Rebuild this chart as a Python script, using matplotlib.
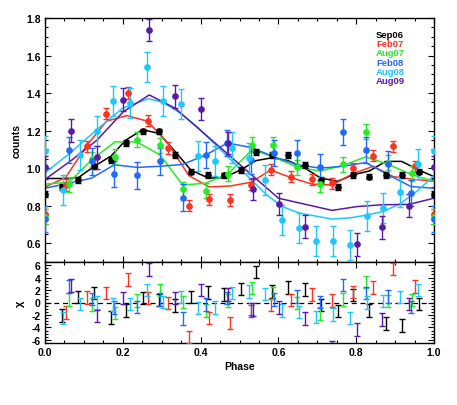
import matplotlib
matplotlib.use('Agg')
import matplotlib.pyplot as plt
from matplotlib.ticker import MultipleLocator

plt.rcParams['font.family'] = ['Liberation Sans', 'DejaVu Sans']
plt.rcParams['axes.unicode_minus'] = False

# ---------------- data ----------------
names = ['Sep06', 'Feb07', 'Aug07', 'Feb08', 'Aug08', 'Aug09']
colors = ['#000000', '#ff3320', '#22ee22', '#1f6bff', '#1ec8ff', '#5a1aa8']

# Sep06
sep06_phase = [0.0, 0.043, 0.086, 0.127, 0.17, 0.208, 0.251, 0.293, 0.334, 0.375, 0.42, 0.46,
               0.503, 0.542, 0.583, 0.625, 0.668, 0.709, 0.752, 0.793, 0.834, 0.876, 0.917, 0.961, 1.0]
sep06_counts = [0.863, 0.90, 0.937, 1.009, 1.045, 1.134, 1.196, 1.196, 1.071, 0.982, 0.964, 0.961,
                0.991, 1.086, 1.071, 1.071, 1.018, 0.937, 0.898, 0.964, 0.955, 0.964, 0.964, 0.982, 0.863]
sep06_err = 0.015
sep06_model_phase = [0.0, 0.043, 0.086, 0.127, 0.17, 0.208, 0.251, 0.293, 0.334, 0.375, 0.42, 0.46,
                     0.503, 0.542, 0.583, 0.625, 0.668, 0.709, 0.752, 0.793, 0.834, 0.876, 0.917, 0.961, 1.0]
sep06_model = [0.945, 0.945, 0.95, 1.01, 1.065, 1.15, 1.205, 1.185, 1.09, 0.99, 0.947, 0.95,
               0.99, 1.04, 1.055, 1.04, 1.0, 0.947, 0.93, 0.965, 0.985, 1.036, 1.036, 0.99, 0.955]
sep06_res_phase = [0.043, 0.086, 0.127, 0.17, 0.208, 0.251, 0.293, 0.334, 0.375, 0.42, 0.46, 0.503,
                   0.542, 0.583, 0.625, 0.668, 0.709, 0.752, 0.793, 0.834, 0.876, 0.917, 0.961]
sep06_res = [-2.1, 0.9, 1.5, -2.4, -1.3, 0.7, 0.4, -0.5, 0.9, 1.6, 1.3, 2.2,
             4.9, 1.8, 2.4, 2.1, -0.4, -1.4, 1.2, -1.3, -3.4, -3.7, -0.2]

# Feb07
feb07_phase = [0.0, 0.054, 0.109, 0.158, 0.213, 0.264, 0.317, 0.37, 0.422, 0.476, 0.53, 0.58,
               0.632, 0.686, 0.738, 0.791, 0.844, 0.895, 0.95, 1.0]
feb07_counts = [0.754, 0.91, 1.116, 1.29, 1.40, 1.253, 1.107, 0.80, 0.834, 0.831, 0.911, 0.991,
                0.955, 0.941, 0.92, 1.0, 1.067, 1.116, 1.01, 0.754]
feb07_err = 0.03
feb07_model_phase = [0.0, 0.053, 0.107, 0.158, 0.21, 0.264, 0.317, 0.37, 0.422, 0.476, 0.53, 0.58,
                     0.632, 0.686, 0.738, 0.791, 0.844, 0.895, 0.95, 1.0]
feb07_model = [0.90, 0.95, 1.12, 1.25, 1.28, 1.25, 1.13, 0.96, 0.90, 0.905, 0.925, 0.99,
               0.95, 0.915, 0.91, 0.97, 1.01, 0.955, 0.94, 0.93]
feb07_res_phase = [0.054, 0.109, 0.158, 0.213, 0.264, 0.317, 0.37, 0.422, 0.476, 0.53, 0.58,
                   0.632, 0.686, 0.738, 0.791, 0.844, 0.895, 0.95]
feb07_res = [-1.6, 0.8, 1.5, 3.7, 0.7, -0.1, -5.5, -2.5, -3.3, -1.4, -0.4,
             0.4, 1.3, 0.3, 1.7, 2.4, 5.4, 2.6]

# Aug07
aug07_phase = [0.0, 0.062, 0.12, 0.18, 0.236, 0.296, 0.354, 0.413, 0.471, 0.533, 0.587, 0.649,
               0.707, 0.767, 0.824, 0.883, 0.943, 1.0]
aug07_counts = [0.742, 0.915, 1.048, 1.062, 1.152, 1.121, 0.888, 0.879, 0.97, 1.125, 1.125, 1.004,
                0.915, 1.021, 1.193, 1.03, 0.973, 0.742]
aug07_err = 0.04
aug07_model_phase = [0.0, 0.062, 0.12, 0.18, 0.236, 0.296, 0.354, 0.413, 0.471, 0.533, 0.587, 0.649,
                     0.707, 0.767, 0.824, 0.883, 0.943, 1.0]
aug07_model = [0.915, 0.925, 1.045, 1.14, 1.14, 1.07, 0.91, 0.92, 0.97, 1.10, 1.06, 1.005,
               0.985, 1.015, 1.06, 1.02, 0.965, 0.93]
aug07_res_phase = [0.062, 0.12, 0.18, 0.236, 0.296, 0.354, 0.413, 0.471, 0.533, 0.587, 0.649,
                   0.707, 0.767, 0.824, 0.883, 0.943]
aug07_res = [0.5, -0.3, -1.7, 0.3, 2.0, 0.1, -1.3, 0.3, 2.3, 1.5, -0.1,
             -1.8, 0.5, 3.3, 0.2, 0.4]

# Feb08
feb08_phase = [0.0, 0.062, 0.12, 0.178, 0.237, 0.296, 0.354, 0.413, 0.469, 0.53, 0.589, 0.649,
               0.707, 0.767, 0.824, 0.883, 0.941, 1.0]
feb08_counts = [0.729, 1.098, 1.036, 0.97, 0.961, 1.036, 0.843, 1.071, 1.134, 1.041, 1.08, 1.08,
                1.006, 1.193, 1.098, 1.023, 0.866, 0.729]
feb08_err = 0.07
feb08_model_phase = [0.0, 0.062, 0.12, 0.178, 0.237, 0.296, 0.354, 0.413, 0.469, 0.53, 0.589, 0.649,
                     0.707, 0.767, 0.824, 0.883, 0.941, 1.0]
feb08_model = [0.893, 0.92, 0.947, 1.018, 1.004, 1.01, 1.02, 1.07, 1.134, 1.11, 1.06, 1.018,
               1.0, 1.01, 1.03, 0.964, 0.902, 0.893]
feb08_res_phase = [0.062, 0.12, 0.178, 0.237, 0.296, 0.354, 0.413, 0.469, 0.53, 0.589, 0.649,
                   0.707, 0.767, 0.824, 0.883, 0.941]
feb08_res = [2.6, 0.6, -0.8, -0.7, 0.5, -2.6, -0.3, 0.7, -1.0, 0.5, 1.0,
             0.1, 2.8, 1.5, 1.0, -0.7]

# Aug08
aug08_phase = [0.0, 0.045, 0.09, 0.133, 0.176, 0.219, 0.261, 0.304, 0.35, 0.394, 0.437, 0.48,
               0.524, 0.566, 0.61, 0.653, 0.697, 0.741, 0.784, 0.827, 0.87, 0.913, 0.958, 1.0]
aug08_counts = [1.093, 0.884, 1.07, 1.196, 1.36, 1.345, 1.54, 1.357, 1.34, 1.066, 1.036, 1.11,
                1.053, 0.937, 0.724, 0.679, 0.611, 0.611, 0.59, 0.747, 0.79, 0.872, 1.021, 1.093]
aug08_err = 0.08
aug08_model_phase = [0.0, 0.064, 0.133, 0.2, 0.266, 0.304, 0.35, 0.394, 0.57, 0.61, 0.655,
                     0.737, 0.784, 0.827, 0.87, 0.913, 0.958, 1.0]
aug08_model = [0.975, 1.08, 1.205, 1.32, 1.37, 1.35, 1.29, 1.215, 0.857, 0.795, 0.76,
               0.729, 0.735, 0.75, 0.77, 0.81, 0.88, 0.96]
aug08_res_phase = [0.045, 0.09, 0.133, 0.176, 0.219, 0.261, 0.304, 0.35, 0.394, 0.437, 0.48,
                   0.524, 0.566, 0.61, 0.653, 0.697, 0.741, 0.784, 0.827, 0.87, 0.913, 0.958]
aug08_res = [-2.5, -0.2, 0.0, -0.3, -0.2, 2.0, 0.1, 0.9, -0.9, -0.8, 1.5,
             1.8, 1.4, -1.3, -1.5, -2.3, -1.9, -2.5, 0.0, 0.2, 0.9, 2.0]

# Aug09
aug09_phase = [0.0, 0.067, 0.134, 0.201, 0.268, 0.334, 0.401, 0.47, 0.534, 0.602, 0.668, 0.738,
               0.801, 0.867, 0.936, 1.0]
aug09_counts = [1.004, 1.2, 1.057, 1.365, 1.736, 1.383, 1.315, 1.134, 0.888, 0.81, 0.688, 0.40,
                0.594, 0.684, 0.80, 1.004]
aug09_err = 0.06
aug09_model_phase = [0.0, 0.067, 0.134, 0.201, 0.268, 0.334, 0.6, 0.738, 0.801, 0.867, 0.936, 1.0]
aug09_model = [0.94, 1.04, 1.15, 1.30, 1.39, 1.32, 0.84, 0.775, 0.795, 0.805, 0.807, 0.84]
aug09_res_phase = [0.067, 0.134, 0.201, 0.268, 0.334, 0.401, 0.47, 0.534, 0.602, 0.668, 0.738,
                   0.801, 0.867, 0.936]
aug09_res = [2.7, -2.2, 0.7, 5.3, 0.7, 2.0, 1.3, -1.1, -0.8, -2.6, -7.2,
             -4.3, -2.7, -0.2]

series = [
    (sep06_phase, sep06_counts, sep06_err, sep06_model_phase, sep06_model, sep06_res_phase, sep06_res),
    (feb07_phase, feb07_counts, feb07_err, feb07_model_phase, feb07_model, feb07_res_phase, feb07_res),
    (aug07_phase, aug07_counts, aug07_err, aug07_model_phase, aug07_model, aug07_res_phase, aug07_res),
    (feb08_phase, feb08_counts, feb08_err, feb08_model_phase, feb08_model, feb08_res_phase, feb08_res),
    (aug08_phase, aug08_counts, aug08_err, aug08_model_phase, aug08_model, aug08_res_phase, aug08_res),
    (aug09_phase, aug09_counts, aug09_err, aug09_model_phase, aug09_model, aug09_res_phase, aug09_res),
]

# ---------------- figure ----------------
W, H = 457, 406
fig = plt.figure(figsize=(W / 100, H / 100), dpi=100)
ax = fig.add_axes([45 / W, 1 - 263 / H, 389 / W, 244 / H])
axr = fig.add_axes([45 / W, 1 - 344 / H, 389 / W, 81 / H])

for (ph, ct, er, mph, mv, rph, rv), col in zip(series, colors):
    ax.plot(mph, mv, color=col, lw=1.1, zorder=2)
    ax.errorbar(ph, ct, yerr=er, fmt='o', ms=3.8, color=col, ecolor=col,
                elinewidth=1.0, capsize=2.2, capthick=1.0, zorder=3)
    axr.errorbar(rph, rv, yerr=1.0, fmt='none', ecolor=col,
                 elinewidth=1.0, capsize=2.2, capthick=1.0, zorder=3)

axr.axhline(0, color='k', lw=0.9, ls=(0, (4, 3)), zorder=2)

ax.set_xlim(0, 1)
ax.set_ylim(0.5, 1.8)
axr.set_xlim(0, 1)
axr.set_ylim(-6.5, 6.5)

for a in (ax, axr):
    a.xaxis.set_major_locator(MultipleLocator(0.2))
    a.xaxis.set_minor_locator(MultipleLocator(0.05))
    a.tick_params(which='both', direction='in', top=True, right=True, width=0.8,
                  labelsize=7.5, pad=3)
    a.tick_params(which='major', length=4.5)
    a.tick_params(which='minor', length=2.2)
    for s in a.spines.values():
        s.set_linewidth(1.0)

ax.yaxis.set_major_locator(MultipleLocator(0.2))
ax.yaxis.set_minor_locator(MultipleLocator(0.05))
ax.set_yticks([0.6, 0.8, 1.0, 1.2, 1.4, 1.6, 1.8])
ax.set_yticklabels(['0.6', '0.8', '1.0', '1.2', '1.4', '1.6', '1.8'])
ax.tick_params(labelbottom=False)

axr.set_yticks([-6, -4, -2, 0, 2, 4, 6])
axr.set_yticklabels(['-6', '-4', '-2', '0', '2', '4', '6'])
axr.yaxis.set_minor_locator(MultipleLocator(0.5))
axr.set_xticks([0.0, 0.2, 0.4, 0.6, 0.8, 1.0])
axr.set_xticklabels(['0.0', '0.2', '0.4', '0.6', '0.8', '1.0'])

for a in (ax, axr):
    for lab in a.get_xticklabels() + a.get_yticklabels():
        lab.set_fontweight('bold')

ax.set_ylabel('counts', fontsize=7.5, fontweight='bold', labelpad=3)
axr.set_ylabel('χ', fontsize=8, fontweight='bold', labelpad=5)
axr.set_xlabel('Phase', fontsize=7.5, fontweight='bold', labelpad=3)

# legend as coloured text
leg_y = [35, 44.4, 53.8, 63.2, 72.6, 82]
for name, col, yy in zip(names, colors, leg_y):
    fig.text(376 / W, 1 - yy / H, name, color=col, fontsize=6.8, fontweight='bold',
             ha='left', va='center')

fig.savefig('out.png', dpi=100)
